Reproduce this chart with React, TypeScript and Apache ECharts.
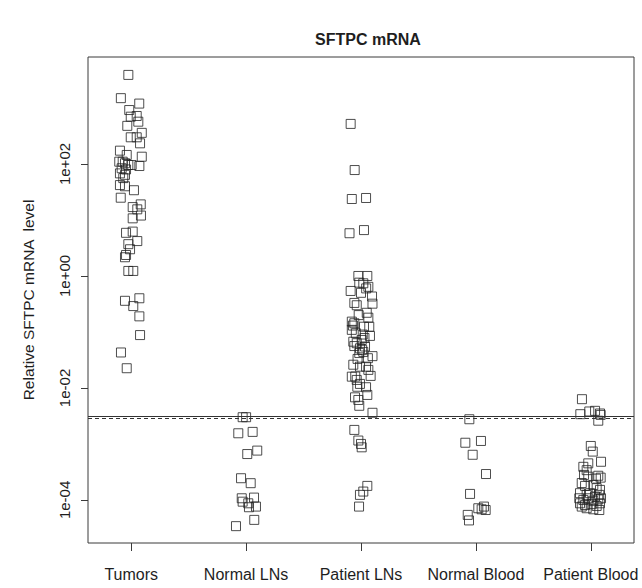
import React, { useEffect, useRef } from 'react';
import * as echarts from 'echarts';

const GROUPS = ['Tumors', 'Normal LNs', 'Patient LNs', 'Normal Blood', 'Patient Blood'];

// [jitter offset from group position, relative SFTPC mRNA level]
const TUMORS: [number, number][] = [
  [-0.025, 3900], [-0.09, 1500], [0.07, 1200], [-0.017, 920], [0.048, 720], [-0.004, 700],
  [0.062, 570], [-0.034, 480], [0.092, 360], [-0.004, 300], [0.048, 300], [0.077, 234],
  [-0.098, 173], [-0.039, 145], [0.092, 135], [-0.104, 110], [-0.074, 110], [-0.054, 103],
  [-0.025, 96], [0.004, 96], [0.071, 92], [-0.083, 84], [-0.045, 80], [-0.098, 68],
  [-0.054, 64], [-0.069, 56], [-0.098, 42], [-0.054, 40], [0.024, 34], [-0.091, 25],
  [0.083, 19], [0.013, 17], [0.053, 15.5], [0.085, 12], [0.013, 10.7], [-0.045, 5.9],
  [0.013, 6.2], [0.053, 4.2], [-0.025, 3.7], [-0.01, 3.0], [-0.045, 2.37], [-0.054, 2.16],
  [-0.025, 1.23], [0.018, 1.23], [-0.054, 0.36], [0.071, 0.4], [0.018, 0.29], [0.071, 0.19],
  [0.077, 0.088], [-0.089, 0.043], [-0.039, 0.0225],
];

const NORMAL_LNS: [number, number][] = [
  [-0.03, 0.003], [0.0, 0.003], [-0.068, 0.00155], [0.057, 0.00164], [0.01, 0.00066],
  [0.097, 0.00076], [-0.044, 0.000244], [0.04, 0.000199], [-0.038, 0.000107], [0.069, 0.00011],
  [-0.03, 0.000093], [0.019, 0.000087], [0.086, 0.000076], [0.025, 0.000074], [0.071, 0.000044],
  [-0.088, 0.000034],
];

const PATIENT_LNS: [number, number][] = [
  [-0.09, 520], [-0.055, 78], [-0.08, 23.7], [0.044, 24.7], [-0.1, 5.8], [0.026, 6.6],
  [-0.023, 1.0], [0.055, 1.0], [-0.015, 0.76], [0.02, 0.74], [0.064, 0.64], [-0.09, 0.54],
  [0.0, 0.5], [0.096, 0.43], [-0.058, 0.33], [-0.037, 0.3], [0.1, 0.32], [0.05, 0.22],
  [0.064, 0.18], [-0.08, 0.153], [-0.058, 0.143], [0.072, 0.124], [0.026, 0.124], [-0.08, 0.109],
  [0.078, 0.085], [-0.067, 0.067], [-0.037, 0.063], [0.006, 0.072], [0.035, 0.055], [-0.009, 0.051],
  [-0.058, 0.056], [0.02, 0.044], [-0.015, 0.042], [0.1, 0.037], [-0.067, 0.026], [-0.009, 0.024],
  [0.044, 0.024], [0.064, 0.021], [0.084, 0.0164], [-0.08, 0.0159], [-0.037, 0.0139], [-0.009, 0.0118],
  [-0.032, 0.0105], [0.044, 0.0103], [0.055, 0.0075], [-0.052, 0.0068], [-0.023, 0.0061], [-0.015, 0.0048],
  [0.1, 0.0036], [-0.058, 0.00178], [-0.023, 0.00115], [0.0, 0.001], [0.006, 0.00087],
  [0.055, 0.000178], [-0.009, 0.000123], [0.02, 0.000141], [-0.017, 0.000076],
  [-0.045, 0.095], [0.03, 0.078], [-0.07, 0.13], [0.01, 0.048], [0.06, 0.034], [-0.02, 0.2],
  [0.045, 0.6], [-0.05, 0.016], [0.015, 0.09], [-0.03, 0.033],
];

const NORMAL_BLOOD: [number, number][] = [
  [-0.057, 0.00276], [-0.092, 0.00105], [0.044, 0.00113], [-0.028, 0.00064], [0.088, 0.00029],
  [-0.051, 0.000128], [0.021, 0.000071], [0.07, 0.000076], [0.085, 0.000066], [0.05, 0.000068],
  [-0.071, 0.000054], [-0.06, 0.000043],
];

const PATIENT_BLOOD: [number, number][] = [
  [-0.077, 0.0063], [-0.091, 0.0034], [-0.013, 0.0038], [0.037, 0.0039], [0.08, 0.0035],
  [0.086, 0.0033], [0.065, 0.0026], [0.0, 0.00092], [0.017, 0.00073], [0.089, 0.00048],
  [-0.022, 0.00045], [-0.065, 0.00039], [-0.036, 0.00034], [-0.059, 0.00028], [-0.022, 0.00026],
  [0.065, 0.00027], [0.086, 0.00025], [0.045, 0.00024], [-0.079, 0.0002], [-0.05, 0.000178],
  [0.022, 0.000185], [0.051, 0.000162], [0.08, 0.000151], [-0.094, 0.000132], [-0.036, 0.000123],
  [-0.007, 0.000132], [0.037, 0.000115], [0.074, 0.000123], [-0.1, 0.000107], [-0.065, 0.0001],
  [-0.022, 0.000107], [0.022, 0.000097], [0.065, 0.000102], [0.089, 0.000107], [-0.094, 0.000087],
  [-0.05, 0.000081], [0.008, 0.000084], [0.051, 0.000078], [0.08, 0.000087], [-0.079, 0.000076],
  [-0.036, 0.000071], [0.022, 0.000068], [0.074, 0.000066],
];

const Y_TICK_EXPONENTS = [-4, -2, 0, 2];
const Y_TICK_LABELS = ['1e-04', '1e-02', '1e+00', '1e+02'];
const CUTOFF_SOLID = 0.00307;
const CUTOFF_DASHED = 0.00279;
const Y_MIN = 1.7e-5;
const Y_MAX = 8150;
const X_MIN = 0.624;
const X_MAX = 5.376;

const FONT = 'Liberation Sans, Arial, Helvetica, sans-serif';
const INK = '#1e1e1e';
const LINE = '#3a3a3a';

export default function App() {
  const ref = useRef<HTMLDivElement>(null);
  useEffect(() => {
    document.body.style.margin = '0';
    const chart = echarts.init(ref.current!, null, { renderer: 'svg' });
    const groups = [TUMORS, NORMAL_LNS, PATIENT_LNS, NORMAL_BLOOD, PATIENT_BLOOD];
    const series: any[] = groups.map((g, i) => ({
      type: 'scatter',
      name: GROUPS[i],
      symbol: 'rect',
      symbolSize: 9,
      itemStyle: { color: 'rgba(0,0,0,0)', borderColor: '#222', borderWidth: 1 },
      emphasis: { disabled: true },
      silent: true,
      data: g.map(([j, v]) => [i + 1 + j, Math.log10(v)]),
    }));
    series[0].markLine = {
      silent: true,
      symbol: 'none',
      label: { show: false },
      animation: false,
      data: [
        { yAxis: Math.log10(CUTOFF_SOLID), lineStyle: { type: 'solid', color: '#333', width: 1 } },
        { yAxis: Math.log10(CUTOFF_DASHED), lineStyle: { type: [4, 3], color: '#333', width: 1 } },
      ],
    };
    chart.setOption({
      animation: false,
      backgroundColor: '#ffffff',
      title: {
        text: 'SFTPC mRNA',
        left: 363,
        textAlign: 'center',
        top: 26,
        textStyle: { fontFamily: FONT, fontSize: 16, fontWeight: 'bold', color: INK },
      },
      grid: {
        left: 88, right: 8, top: 57, bottom: 45,
        show: true, borderColor: LINE, borderWidth: 1, backgroundColor: 'transparent',
      },
      xAxis: {
        type: 'value',
        min: X_MIN,
        max: X_MAX,
        axisLine: { show: false, onZero: false },
        splitLine: { show: false },
        axisTick: { show: true, length: 8, customValues: [1, 2, 3, 4, 5], lineStyle: { color: LINE } },
        axisLabel: {
          customValues: [1, 2, 3, 4, 5],
          formatter: (v: number) => GROUPS[Math.round(v) - 1] ?? '',
          margin: 23,
          fontFamily: FONT,
          fontSize: 16,
          color: INK,
        },
      },
      yAxis: {
        type: 'value',
        min: Math.log10(Y_MIN),
        max: Math.log10(Y_MAX),
        axisLine: { show: false, onZero: false },
        splitLine: { show: false },
        name: 'Relative SFTPC mRNA  level',
        nameLocation: 'middle',
        nameGap: 52,
        nameTextStyle: { fontFamily: FONT, fontSize: 15.5, color: INK },
        axisTick: { show: true, length: 7, customValues: Y_TICK_EXPONENTS, lineStyle: { color: LINE } },
        axisLabel: {
          customValues: Y_TICK_EXPONENTS,
          formatter: (v: number) => Y_TICK_LABELS[Y_TICK_EXPONENTS.indexOf(Math.round(v))] ?? '',
          rotate: 90,
          margin: 16,
          fontFamily: FONT,
          fontSize: 15,
          color: INK,
        },
      },
      series,
    });
    return () => chart.dispose();
  }, []);
  return <div ref={ref} style={{ position: 'absolute', left: 0, top: 0, width: 642, height: 588 }} />;
}
